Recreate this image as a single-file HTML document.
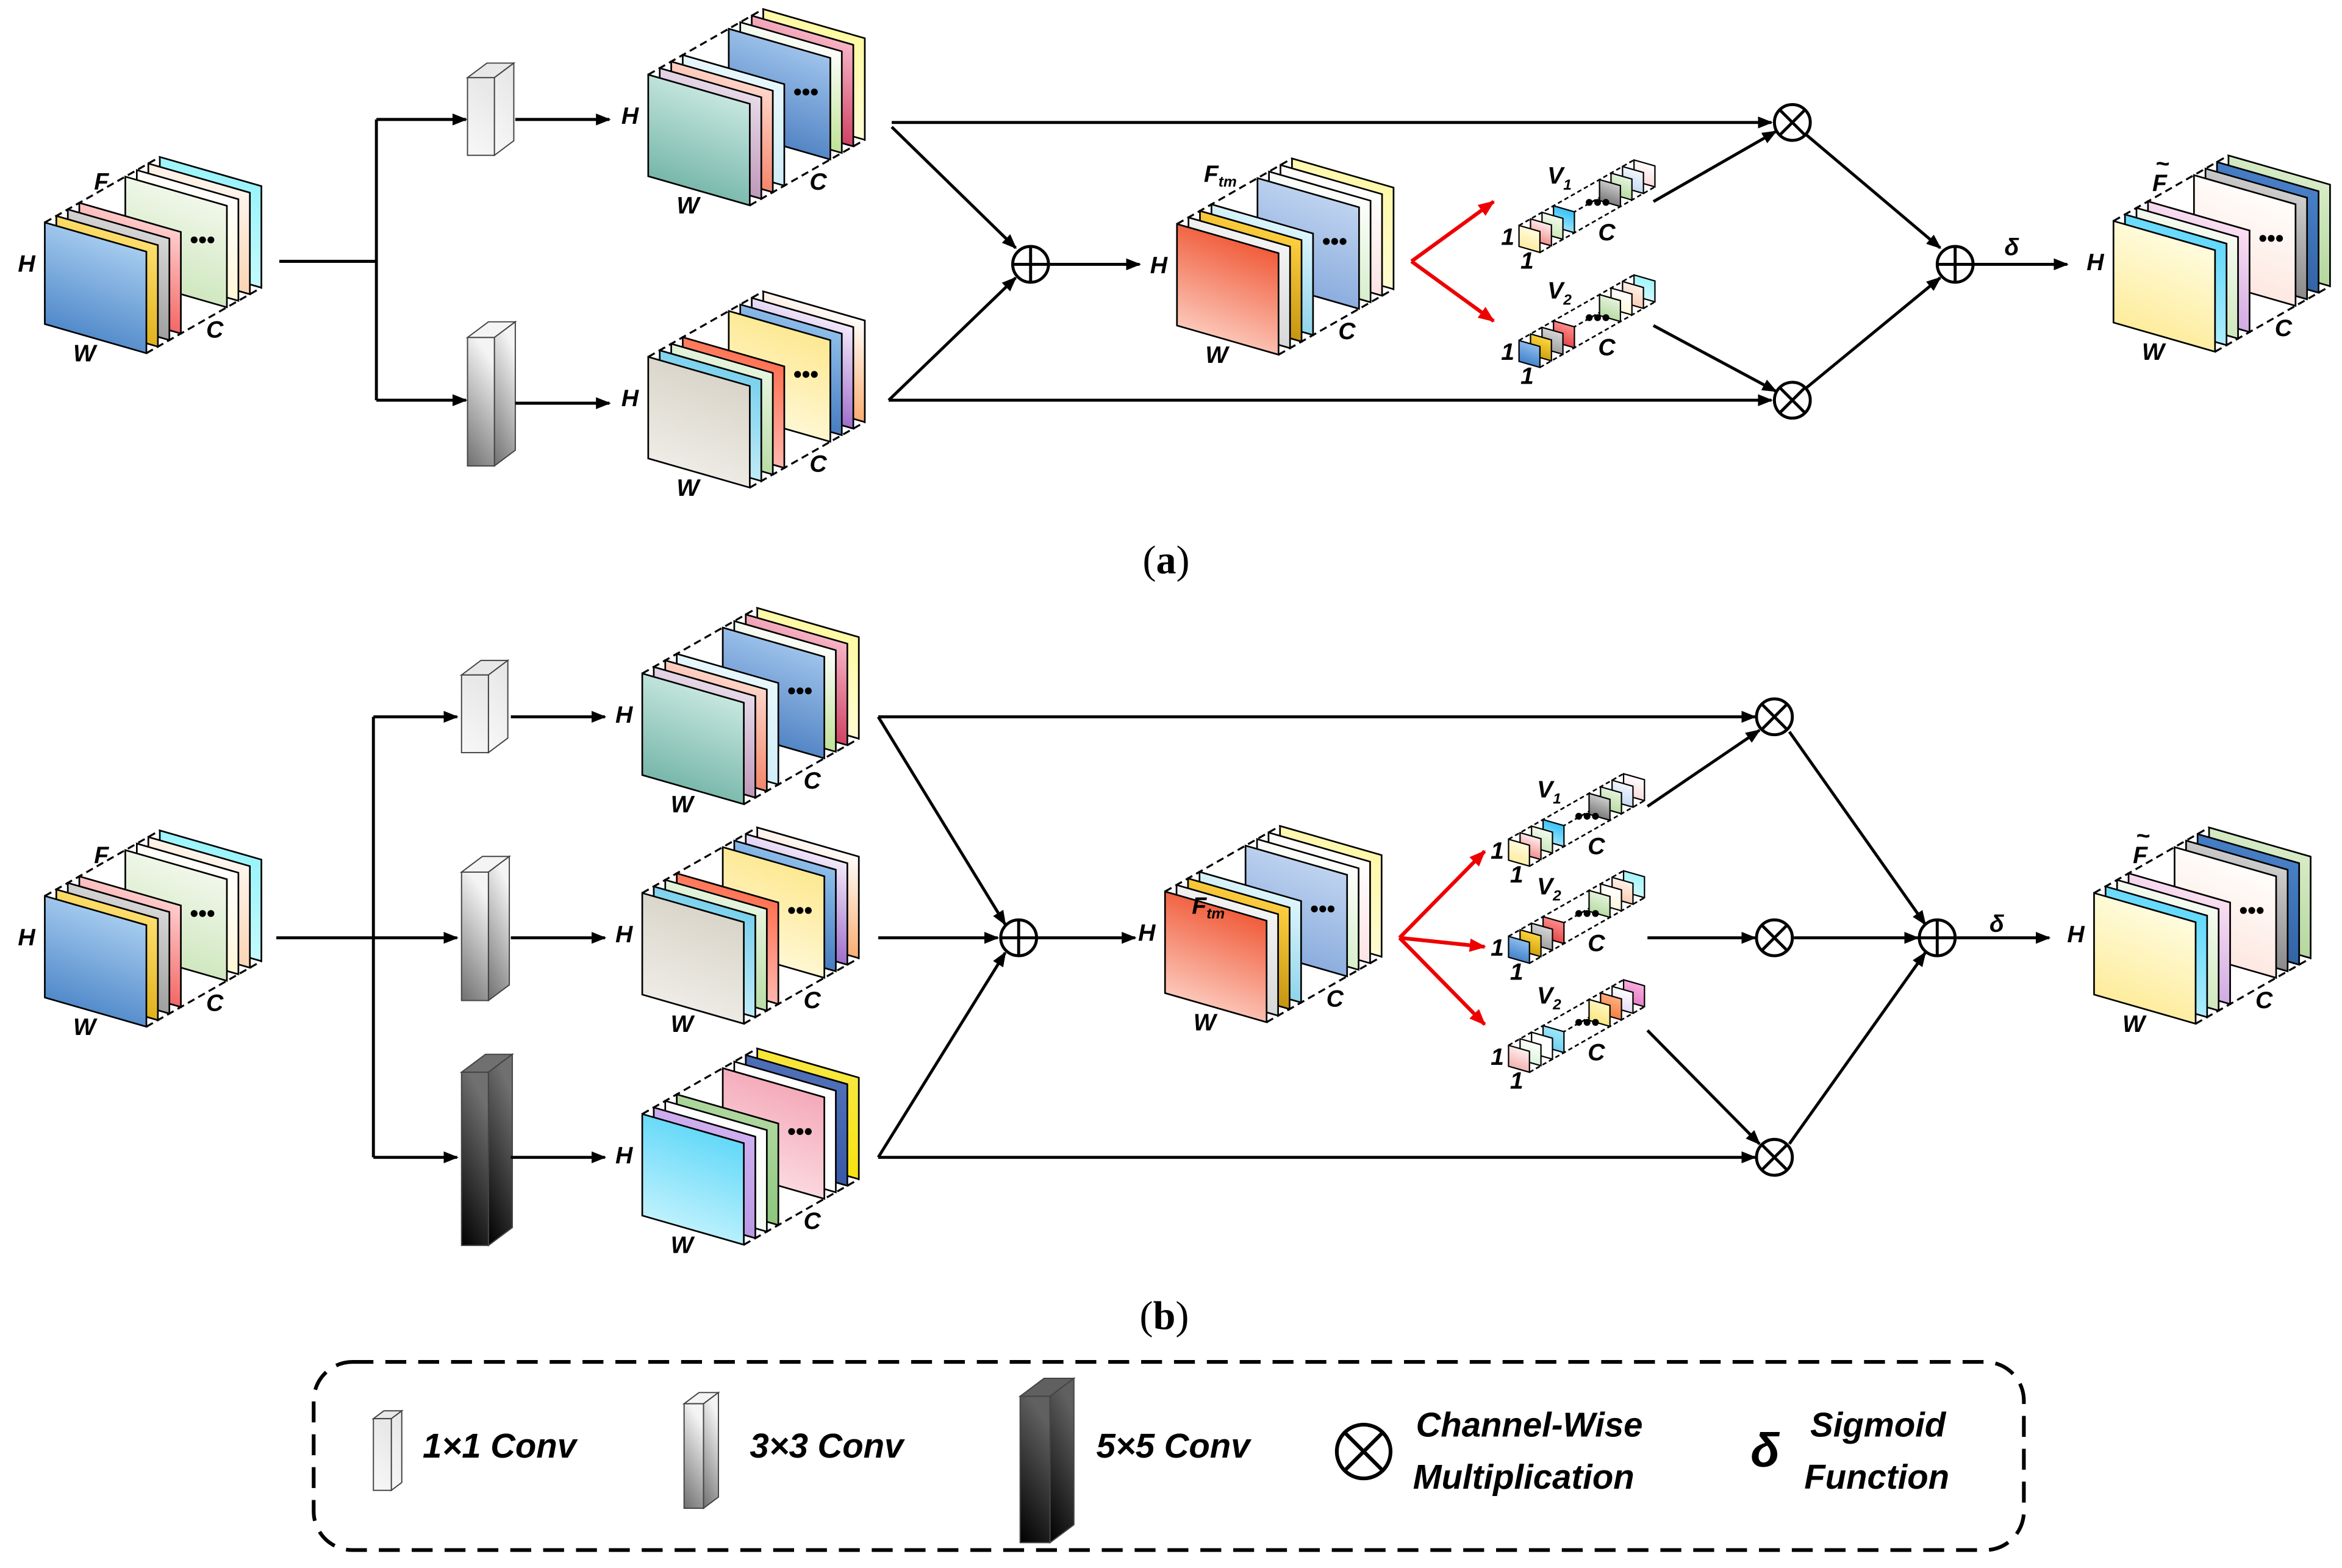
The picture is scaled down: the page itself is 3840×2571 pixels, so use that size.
<!DOCTYPE html>
<html><head><meta charset="utf-8">
<style>
html,body{margin:0;padding:0;background:#fff;}
svg{display:block;}
.lb{font-family:"Liberation Sans",sans-serif;font-weight:bold;font-style:italic;font-size:16px;fill:#000;}
.cap{font-family:"Liberation Serif",serif;font-size:27px;fill:#000;}
.lg{font-family:"Liberation Sans",sans-serif;font-weight:bold;font-style:italic;font-size:23px;fill:#000;}
</style></head>
<body>
<svg id="s" xmlns="http://www.w3.org/2000/svg" width="3840" height="2571" viewBox="0 0 1568 1050" preserveAspectRatio="none">
<defs id="defs">
<marker id="ar" markerWidth="10" markerHeight="8" refX="9" refY="4" orient="auto" markerUnits="userSpaceOnUse"><path d="M0,0 L10,4 L0,8 z" fill="#000"/></marker>
<marker id="arr" markerWidth="11" markerHeight="9" refX="10" refY="4.5" orient="auto" markerUnits="userSpaceOnUse"><path d="M0,0 L11,4.5 L0,9 z" fill="#e00"/></marker>
</defs>
<g id="shapes"></g>
<g id="lines" stroke="#000" stroke-width="2" fill="none">
<path d="M187,175 H252"/><path d="M252,80 V268"/>
<path d="M252,80 H312" marker-end="url(#ar)"/><path d="M252,268 H312" marker-end="url(#ar)"/>
<path d="M345,80 H408" marker-end="url(#ar)"/><path d="M345,270 H408" marker-end="url(#ar)"/>
<path d="M597,82 H1186" marker-end="url(#ar)"/>
<path d="M597,85 L680,166" marker-end="url(#ar)"/>
<path d="M595,268 L680,186" marker-end="url(#ar)"/>
<path d="M595,268 H1186" marker-end="url(#ar)"/>
<path d="M703,177 H763" marker-end="url(#ar)"/>
<path d="M1107,135 L1189,88" marker-end="url(#ar)"/>
<path d="M1107,218 L1189,262" marker-end="url(#ar)"/>
<path d="M1209,90 L1299,166" marker-end="url(#ar)"/>
<path d="M1209,260 L1299,186" marker-end="url(#ar)"/>
<path d="M1321,177 H1384" marker-end="url(#ar)"/>
<path d="M185,628 H250"/><path d="M250,480 V775"/>
<path d="M250,480 H306" marker-end="url(#ar)"/><path d="M250,628 H306" marker-end="url(#ar)"/><path d="M250,775 H306" marker-end="url(#ar)"/>
<path d="M342,480 H405" marker-end="url(#ar)"/><path d="M342,628 H405" marker-end="url(#ar)"/><path d="M342,775 H405" marker-end="url(#ar)"/>
<path d="M588,480 H1175" marker-end="url(#ar)"/>
<path d="M588,480 L673,619" marker-end="url(#ar)"/>
<path d="M588,628 H668" marker-end="url(#ar)"/>
<path d="M588,775 L673,638" marker-end="url(#ar)"/>
<path d="M588,775 H1175" marker-end="url(#ar)"/>
<path d="M695,628 H760" marker-end="url(#ar)"/>
<path d="M1103,540 L1178,489" marker-end="url(#ar)"/>
<path d="M1103,628 H1175" marker-end="url(#ar)"/>
<path d="M1103,690 L1178,766" marker-end="url(#ar)"/>
<path d="M1198,490 L1289,619" marker-end="url(#ar)"/>
<path d="M1201,628 H1284" marker-end="url(#ar)"/>
<path d="M1198,766 L1289,638" marker-end="url(#ar)"/>
<path d="M1310,628 H1372" marker-end="url(#ar)"/>
</g>
<g stroke="#e00" stroke-width="2.5" fill="none">
<path d="M945,175 L1000,135" marker-end="url(#arr)"/><path d="M945,175 L1000,215" marker-end="url(#arr)"/>
<path d="M937,628 L994,570" marker-end="url(#arr)"/><path d="M937,628 L994,634" marker-end="url(#arr)"/><path d="M937,628 L994,686" marker-end="url(#arr)"/>
</g>
<g id="ops" stroke="#000" stroke-width="2" fill="#fff"></g>
<rect x="210" y="912" width="1145" height="126" rx="26" fill="none" stroke="#000" stroke-width="2.5" stroke-dasharray="14,8"/>
<g id="legend"></g>
<text class="lg" x="283" y="976">1×1 Conv</text>
<text class="lg" x="502" y="976">3×3 Conv</text>
<text class="lg" x="734" y="976">5×5 Conv</text>
<text class="lg" x="948" y="962">Channel-Wise</text>
<text class="lg" x="946" y="997">Multiplication</text>
<text x="1172" y="982" style="font-family:'Liberation Sans',sans-serif;font-weight:bold;font-style:italic;font-size:32px">δ</text>
<text class="lg" x="1212" y="962">Sigmoid</text>
<text class="lg" x="1208" y="997">Function</text>
<text class="cap" x="765" y="384">(<tspan font-weight="bold">a</tspan>)</text>
<text class="cap" x="763" y="890">(<tspan font-weight="bold">b</tspan>)</text>
<g id="texts"></g>
<g>
<text class="lb" x="63" y="127">F</text>
<text class="lb" x="806" y="122">F<tspan font-size="10" dy="3">tm</tspan></text>
<text class="lb" x="798" y="612">F<tspan font-size="10" dy="3">tm</tspan></text>
<text class="lb" x="1441" y="128">F</text><text class="lb" x="1443" y="115" font-size="13">~</text>
<text class="lb" x="63" y="578">F</text>
<text class="lb" x="1428" y="578">F</text><text class="lb" x="1430" y="565" font-size="13">~</text>
<text class="lb" x="1342" y="171" font-size="14">δ</text>
<text class="lb" x="1332" y="624" font-size="14">δ</text>
</g>
</svg>
<script>
const NS="http://www.w3.org/2000/svg";
const S=document.getElementById('shapes'),D=document.getElementById('defs'),T=document.getElementById('texts');
let gid=0;
function el(p,tag,a){const e=document.createElementNS(NS,tag);for(const k in a)e.setAttribute(k,a[k]);p.appendChild(e);return e;}
function grad(c1,c2){const id='g'+(gid++);const g=el(D,'linearGradient',{id:id,x1:0.3,y1:0,x2:0,y2:1});el(g,'stop',{offset:0,'stop-color':c1});el(g,'stop',{offset:1,'stop-color':c2});return 'url(#'+id+')';}
const K=0.57,SK=0.287;
function face(p,x,y,W,H,c1,c2,sw){
 el(p,'polygon',{points:`${x},${y} ${x+W},${y+SK*W} ${x+W},${y+SK*W+H} ${x},${y+H}`,fill:grad(c1,c2),stroke:'#000','stroke-width':sw});
}
function cube(x,y,W,H,Dp,fr,bk,sp,sw,dots){
 const g=el(S,'g',{});
 const ds=[];
 fr.forEach((c,i)=>ds.push([i*sp,c]));
 bk.forEach((c,i)=>ds.push([Dp-(bk.length-1-i)*sp,c]));
 el(g,'path',{d:`M${x},${y} L${x+Dp},${y-K*Dp} M${x+W},${y+SK*W} L${x+W+Dp},${y+SK*W-K*Dp} M${x+W},${y+SK*W+H} L${x+W+Dp},${y+SK*W+H-K*Dp}`,stroke:'#000','stroke-width':sw*1.2,'stroke-dasharray':dots?'3,2':'5,3',fill:'none'});
 ds.sort((a,b)=>b[0]-a[0]);
 for(const q of ds) face(g,x+q[0],y-K*q[0],W,H,q[1][0],q[1][1],sw);
}
function fcube(x,y,fr,bk){
 cube(x,y,68,68,77,fr,bk,7.7,1.1,false);
 el(T,'text',{x:x+W_(0)+29,y:y+17,'class':'lb','font-size':13}).textContent='•••';
 el(T,'text',{x:x-18,y:y+33,'class':'lb'}).textContent='H';
 el(T,'text',{x:x+19,y:y+93,'class':'lb'}).textContent='W';
 el(T,'text',{x:x+108,y:y+77,'class':'lb'}).textContent='C';
}
function W_(){return 68;}
function vec(x,y,fr,bk,sub){
 cube(x,y,14,14,77,fr,bk,7.7,0.9,true);
 el(T,'text',{x:x+44,y:y-10,'class':'lb','font-size':9}).textContent='•••';
 el(T,'text',{x:x-12,y:y+13,'class':'lb','font-size':14}).textContent='1';
 el(T,'text',{x:x+1,y:y+29,'class':'lb','font-size':14}).textContent='1';
 el(T,'text',{x:x+53,y:y+10,'class':'lb','font-size':15}).textContent='C';
 const t=el(T,'text',{x:x+19,y:y-28,'class':'lb','font-size':15});t.textContent='V';
 const ts=el(t,'tspan',{'font-size':10,dy:4});ts.textContent=sub;
}
function bar(p,x,y,w,h,d,c1,c2){
 const k=0.75;
 el(p,'polygon',{points:`${x},${y} ${x+w},${y} ${x+w+d},${y-k*d} ${x+d},${y-k*d}`,fill:c1,stroke:'#444','stroke-width':0.8});
 el(p,'polygon',{points:`${x+w},${y} ${x+w+d},${y-k*d} ${x+w+d},${y+h-k*d} ${x+w},${y+h}`,fill:grad(c1,c2),stroke:'#444','stroke-width':0.8});
 el(p,'rect',{x:x,y:y,width:w,height:h,fill:grad(c1,c2),stroke:'#444','stroke-width':0.8});
}
const P={
 in:[[['#a8cdf0','#3a78c0'],['#ffe070','#d4a000'],['#d8d8d8','#8a8a8a'],['#ffd0d0','#f04040']],[['#f2f8ec','#c4e2b0'],['#ffffff','#fff4c8'],['#fff6ee','#f8c8a0'],['#98f4fa','#d4fcfd']]],
 b1:[[['#c8e8e0','#62aa9c'],['#e8dcea','#b080a8'],['#ffd8cc','#f06848'],['#e8f8fc','#c8eaf6']],[['#a0c4ec','#3a70b8'],['#ffffff','#a8d870'],['#f8b8c8','#c01840'],['#fffaa0','#fffee8']]],
 b2:[[['#d8d4c8','#f4f2ee'],['#78d0ec','#d8f4fc'],['#e8f6e0','#a8d490'],['#ff7050','#ffd0d0']],[['#fde890','#fffce8'],['#90c0ec','#2c64b0'],['#f4ecfc','#8040b8'],['#ffffff','#f89040']]],
 b3:[[['#60d8f8','#d8f8fe'],['#d0b0f0','#b090e0'],['#ffffff','#f0f8f0'],['#b0d8a0','#80c070']],[['#f4a8b8','#fde8ec'],['#ffffff','#ffffff'],['#5070b8','#3050a0'],['#f8e840','#f8e000']]],
 ft:[[['#f05a38','#ffe4dc'],['#f4f4f4','#cccccc'],['#ffd040','#b08000'],['#e0f6fc','#70c8e4']],[['#c0d4f0','#7aa0d8'],['#ffffff','#c8e8b8'],['#ffffff','#fcd8d8'],['#fff8a8','#fffce0']]],
 out:[[['#fffce0','#fde88a'],['#60d8fc','#c8f4fe'],['#f8fcf4','#c0e0a8'],['#fce0f0','#c098e0']],[['#fffefc','#fde0d8'],['#d0d0d0','#707070'],['#4880c8','#2a5a98'],['#d8ecc8','#a8d090']]]
};
fcube(30,149,...P.in);
fcube(434,50,...P.b1);
fcube(434,239,...P.b2);
fcube(788,150,...P.ft);
fcube(1415,148,...P.out);
fcube(30,600,...P.in);
fcube(430,451,...P.b1);
fcube(430,598,...P.b2);
fcube(430,746,...P.b3);
fcube(780,597,...P.ft);
fcube(1402,598,...P.out);
bar(S,313,52,18,52,13,'#e8e8e8','#f8f8f8');
bar(S,313,226,18,86,14,'#f4f4f4','#707070');
bar(S,309,452,18,52,13,'#e8e8e8','#f8f8f8');
bar(S,309,584,18,86,14,'#f4f4f4','#707070');
bar(S,309,718,18,116,16,'#707070','#000000');
const L=document.getElementById('legend');
bar(L,250,950,12,48,7,'#e8e8e8','#f8f8f8');
bar(L,458,940,13,70,10,'#f4f4f4','#707070');
bar(L,683,935,20,98,16,'#606060','#000000');
const V1=[[['#fffce0','#ffe890'],['#fff0f0','#f07070'],['#f4fcf0','#c0e0a8'],['#30c0f8','#c0f0fe']],[['#d0d0d0','#606060'],['#e8f4e0','#a8d490'],['#f4f8fc','#b8d0f0'],['#ffffff','#f8d0d0']]];
const V2=[[['#90c0f0','#2c70c0'],['#ffd840','#c09000'],['#d8d8d8','#909090'],['#ff9090','#e03030']],[['#e8f4e0','#a8d490'],['#ffffff','#fff4d0'],['#fff4ee','#f8c0a0'],['#a0f4fa','#e0fcfe']]];
const V3=[[['#fff0f0','#f0a0a0'],['#ffffff','#d0f0d0'],['#ffffff','#ffffff'],['#a0e8f8','#60c8f0']],[['#fff8c0','#f8e070'],['#ffb080','#f07030'],['#ffffff','#e0d0f0'],['#f8b0e0','#e070c0']]];
vec(1017,151,...V1,'1');vec(1017,228,...V2,'2');
vec(1010,562,...V1,'1');vec(1010,627,...V2,'2');vec(1010,700,...V3,'2');
const O=document.getElementById('ops');
function otimes(x,y,r){el(O,'circle',{cx:x,cy:y,r:r});const d=r*0.707;el(O,'path',{d:`M${x-d},${y-d} L${x+d},${y+d} M${x+d},${y-d} L${x-d},${y+d}`});}
function oplus(x,y,r){el(O,'circle',{cx:x,cy:y,r:r});el(O,'path',{d:`M${x-r},${y} H${x+r} M${x},${y-r} V${y+r}`});}
otimes(1200,82,12);otimes(1200,268,12);oplus(690,177,12);oplus(1309,177,12);
otimes(1188,480,12);otimes(1188,628,12);otimes(1188,775,12);oplus(682,628,12);oplus(1297,628,12);
el(O,'circle',{cx:913,cy:972,r:18,'stroke-width':2.5});
el(O,'path',{d:'M900,959 L926,985 M926,959 L900,985','stroke-width':2.5});
</script>
</body></html>
